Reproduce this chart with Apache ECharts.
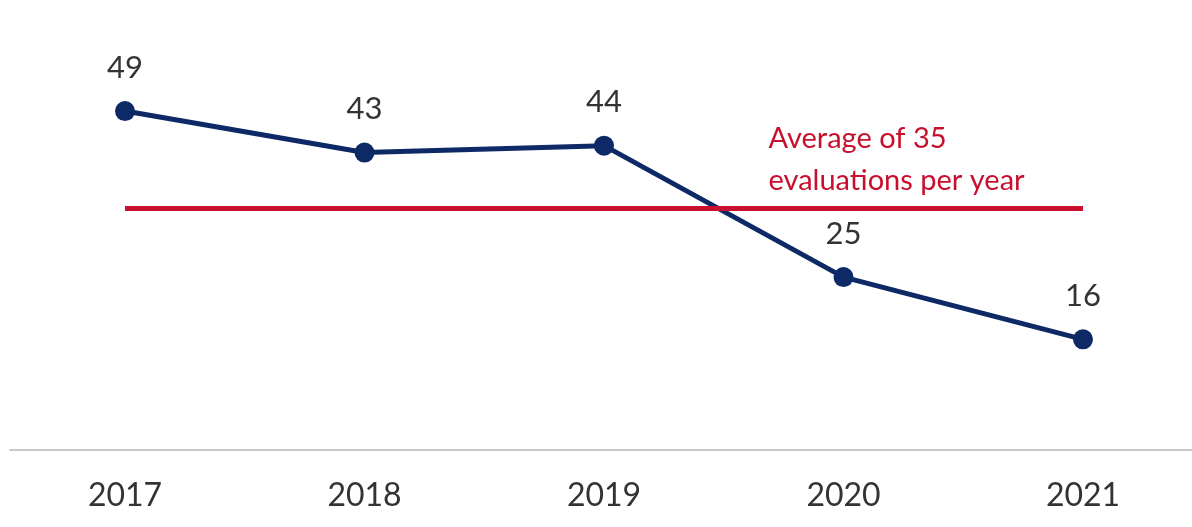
<!DOCTYPE html>
<html>
<head>
<meta charset="utf-8">
<script src="https://cdn.jsdelivr.net/npm/echarts@6/dist/echarts.min.js"></script>
<style>
  html, body { margin: 0; padding: 0; background: #fff; }
  #chart { width: 1192px; height: 527px; }
</style>
</head>
<body>
<div id="chart"></div>
<script>
// Evaluations completed per year
const years = ['2017', '2018', '2019', '2020', '2021'];
const evaluations = [49, 43, 44, 25, 16];
const averageValue = 35;
const averageLabel = 'Average of 35\nevaluations per year';

const FONT = 'Lato, "Open Sans", sans-serif';
const NAVY = '#0e2a66';
const RED = '#c8102e';

const chart = echarts.init(document.getElementById('chart'));
chart.setOption({
  animation: false,
  backgroundColor: '#ffffff',
  grid: [
    { left: 125, right: 109, top: 35, bottom: 77 },
    // full-width baseline under the plot
    { left: 10, right: 0, top: 35, bottom: 77 }
  ],
  xAxis: [{
    type: 'category',
    gridIndex: 0,
    data: years,
    boundaryGap: false,
    axisLine: { show: false },
    axisTick: { show: false },
    axisLabel: { color: '#333', fontSize: 32, fontFamily: FONT, margin: 30 }
  }, {
    type: 'category',
    gridIndex: 1,
    data: years,
    axisLine: { lineStyle: { color: '#c8c8c8', width: 2 } },
    axisTick: { show: false },
    axisLabel: { show: false }
  }],
  yAxis: [
    { type: 'value', gridIndex: 0, min: 0, max: 60, show: false },
    { type: 'value', gridIndex: 1, min: 0, max: 60, show: false }
  ],
  series: [{
    type: 'line',
    xAxisIndex: 0,
    yAxisIndex: 0,
    data: evaluations,
    symbol: 'circle',
    symbolSize: 20,
    lineStyle: { color: NAVY, width: 5 },
    itemStyle: { color: NAVY },
    label: {
      show: true,
      position: 'top',
      distance: 18,
      color: '#333',
      fontSize: 31,
      fontFamily: FONT
    },
    markLine: {
      silent: true,
      symbol: 'none',
      label: { show: false },
      lineStyle: { color: RED, width: 5, type: 'solid' },
      data: [[{ coord: [years[0], averageValue] }, { coord: [years[years.length - 1], averageValue] }]]
    },
    markPoint: {
      symbol: 'circle',
      symbolSize: 0,
      data: [{ coord: [years[3], averageValue] }],
      label: {
        show: true,
        formatter: averageLabel,
        position: 'inside',
        align: 'left',
        verticalAlign: 'middle',
        offset: [-75, -48],
        color: RED,
        fontSize: 29,
        lineHeight: 42,
        fontFamily: FONT
      }
    }
  }]
});
</script>
</body>
</html>
